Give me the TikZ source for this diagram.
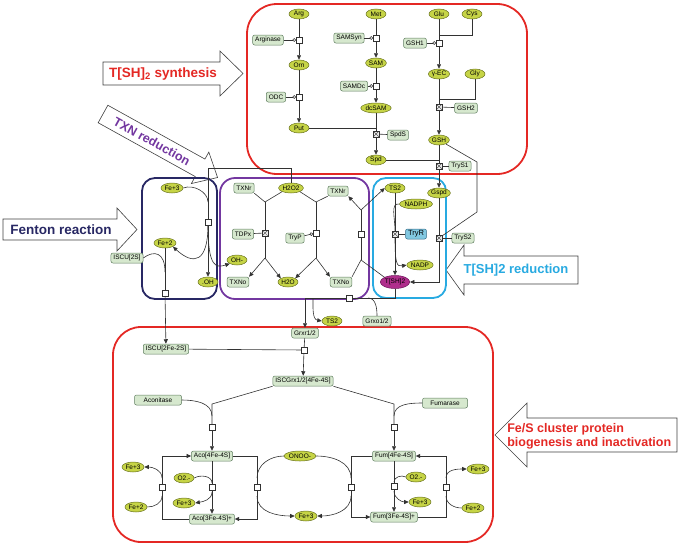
\documentclass[tikz,border=0pt]{standalone}
\usepackage{fontspec}
\setmainfont{Liberation Sans}
\usetikzlibrary{arrows.meta,shapes.geometric}
\definecolor{spfill}{RGB}{198,212,70}
\definecolor{spline}{RGB}{105,115,30}
\definecolor{enzfill}{RGB}{214,232,206}
\definecolor{enzline}{RGB}{95,125,95}
\definecolor{tryfill}{RGB}{130,200,225}
\definecolor{tryline}{RGB}{45,105,135}
\definecolor{tshfill}{RGB}{176,46,140}
\definecolor{tshline}{RGB}{110,20,90}
\definecolor{lnk}{RGB}{50,50,50}
\definecolor{fsred}{RGB}{228,40,36}
\definecolor{navy}{RGB}{40,40,100}
\definecolor{purp}{RGB}{115,55,160}
\definecolor{cyanb}{RGB}{40,170,225}
\tikzset{>={Triangle[length=4.5pt,width=4pt]}}
\tikzset{
  sp/.style={ellipse,draw=spline,fill=spfill,text=black,inner xsep=0.3pt,inner ysep=0pt,
    minimum width=20pt,minimum height=10pt,line width=0.5pt,font=\fontsize{6.5}{7}\selectfont},
  enz/.style={rectangle,rounded corners=2pt,draw=enzline,fill=enzfill,text=black,inner xsep=2.5pt,
    inner ysep=1pt,minimum height=10pt,line width=0.5pt,font=\fontsize{6.5}{7}\selectfont},
  proc/.style={rectangle,draw=lnk,fill=white,minimum size=5.5pt,inner sep=0pt,line width=0.5pt},
  xproc/.style={proc,fill=gray!15,path picture={\draw[lnk,line width=0.35pt]
    (path picture bounding box.south west) -- (path picture bounding box.north east)
    (path picture bounding box.north west) -- (path picture bounding box.south east);}},
  cat/.style={-{Circle[open,length=3.5pt]}},
  area/.style={line width=1.8pt,rounded corners=13pt},
  blk/.style={draw=black!75,fill=white,line width=0.6pt},
  blktext/.style={font=\fontsize{13.5}{15}\selectfont\bfseries,inner sep=1pt}
}
\begin{document}
\begin{tikzpicture}[x=1pt,y=-1pt,line width=0.6pt,color=lnk]
\useasboundingbox (0,0) rectangle (679,546);

\draw[blk] (103,62) -- (220,62) -- (220,51) -- (243,73.5) -- (220,96) -- (220,85) -- (103,85) -- cycle;
\node[blktext,text=fsred] (synth) at (163,74) {T[SH]\textsubscript{2} synthesis};
\draw[blk] (3,219) -- (117,219) -- (117,208) -- (137,229.5) -- (117,251) -- (117,240) -- (3,240) -- cycle;
\node[blktext,text=navy] (fenton) at (61,230) {Fenton reaction};
\begin{scope}[shift={(103,114)},rotate=-29]
\draw[blk] (0,-10) -- (111,-10) -- (111,-18) -- (131,0) -- (111,18) -- (111,10) -- (0,10) -- cycle;
\node[blktext,text=purp,rotate=-29,font=\fontsize{12.5}{14}\selectfont\bfseries] (txnred) at (56,0) {TXN reduction};
\end{scope}
\draw[blk] (578,256) -- (464,256) -- (464,245) -- (446,270) -- (464,295) -- (464,284) -- (578,284) -- cycle;
\node[blktext,text=cyanb,font=\fontsize{13}{15}\selectfont\bfseries] (tshred) at (516,270) {T[SH]2 reduction};
\draw[blk] (677,418) -- (527,418) -- (527,403) -- (495,435) -- (527,467) -- (527,452) -- (677,452) -- cycle;
\node[blktext,text=fsred,font=\fontsize{12.5}{14}\selectfont\bfseries,align=left,anchor=west] (fesred) at (506,436)
  {Fe/S cluster protein\\biogenesis and inactivation};

\draw[area,draw=fsred,rounded corners=30pt] (247,4) rectangle (527,174);
\draw[area,draw=navy] (142,178) rectangle (217,299);
\draw[area,draw=purp,rounded corners=15pt] (220,178) rectangle (369,299);
\draw[area,draw=cyanb] (373,178) rectangle (446,298);
\draw[area,draw=fsred,rounded corners=28pt] (113,327) rectangle (493,542);

\node[sp] (arg) at (299,14) {Arg};
\node[proc] (pa) at (299,40) {};
\node[enz] (arginase) at (268,40) {Arginase};
\node[sp] (orn) at (299,65) {Orn};
\node[proc] (po) at (299,97) {};
\node[enz] (odc) at (276,97) {ODC};
\node[sp] (put) at (299,128) {Put};
\node[sp] (met) at (376,14) {Met};
\node[proc] (pm) at (376,38) {};
\node[enz] (samsyn) at (349,38) {SAMSyn};
\node[sp] (sam) at (376,63) {SAM};
\node[proc] (ps) at (376,86) {};
\node[enz] (samdc) at (354,86) {SAMDc};
\node[sp] (dcsam) at (376,108) {dcSAM};
\node[xproc] (pd) at (376,134) {};
\node[enz] (spds) at (398,135) {SpdS};
\node[sp] (spd) at (376,160) {Spd};
\node[sp] (glu) at (439,14) {Glu};
\node[sp] (cys) at (472,14) {Cys};
\node[proc] (pg) at (439,43) {};
\node[enz] (gsh1) at (415,43) {GSH1};
\node[sp] (gec) at (439,74) {γ-EC};
\node[sp] (gly) at (475,74) {Gly};
\node[xproc] (pe) at (439,107) {};
\node[enz] (gsh2) at (466,108) {GSH2};
\node[sp] (gsh) at (439,140) {GSH};
\node[xproc] (pt) at (439,166) {};
\node[enz] (trys1) at (460,166) {TryS1};
\coordinate (jc) at (439,35);
\coordinate (jg) at (439,99);

\draw (arg) -- (pa); \draw[->] (pa) -- (orn); \draw[cat] (arginase) -- (pa);
\draw (orn) -- (po); \draw[->] (po) -- (put); \draw[cat] (odc) -- (po);
\draw (met) -- (pm); \draw[->] (pm) -- (sam); \draw[cat] (samsyn) -- (pm);
\draw (sam) -- (ps); \draw[->] (ps) -- (dcsam); \draw[cat] (samdc) -- (ps);
\draw (dcsam) -- (pd); \draw[->] (pd) -- (spd); \draw (spds) -- (pd);
\draw (put) -- (put -| pd);
\draw (glu) -- (pg); \draw (cys) |- (jc); \draw[->] (pg) -- (gec); \draw[cat] (gsh1) -- (pg);
\draw (gec) -- (pe); \draw (gly) |- (jg); \draw[->] (pe) -- (gsh); \draw (gsh2) -- (pe);
\draw (gsh) -- (pt); \draw (spd) -- (spd -| pt); \draw (trys1) -- (pt);

\node[sp] (gspd) at (439,193) {Gspd};
\node[xproc] (pq) at (439,238) {};
\node[enz] (trys2) at (463,238) {TryS2};
\node[sp,fill=tshfill,draw=tshline,minimum height=13pt] (tsh) at (395,282) {T[SH]2};
\node[sp] (ts2) at (395,188) {TS2};
\node[xproc] (pr) at (395,234) {};
\node[enz,fill=tryfill,draw=tryline,font=\fontsize{7.5}{8}\selectfont] (tryr) at (416,234) {TryR};
\node[sp] (nadph) at (416,204) {NADPH};
\node[sp] (nadp) at (420,265) {NADP};
\coordinate (k1) at (477,162);
\coordinate (k2) at (477,212);

\draw[->] (pt) -- (gspd);
\draw (gsh) -- (k1) -- (k2) -- (pq);
\draw (gspd) -- (pq); \draw[->] (pq) |- (tsh); \draw (trys2) -- (pq);
\draw (ts2) -- (pr); \draw[->] (pr) -- (tsh); \draw (tryr) -- (pr);
\draw (nadph.west) .. controls +(-9,-1) and +(0,-14) .. (pr.north);
\draw[->] (pr.south) .. controls +(0,26) and +(-10,2) .. (nadp.west);

\node[enz] (txnr) at (244,188) {TXNr};
\node[sp] (hoo) at (291,188) {H2O2};
\node[enz] (txnrb) at (338,191) {TXNr};
\node[enz] (tdpx) at (243,234) {TDPx};
\node[xproc] (pp) at (265,233) {};
\node[enz] (tryp) at (295,238) {TryP};
\node[proc] (pw) at (316,233) {};
\node[enz] (txno) at (238,282) {TXNo};
\node[sp] (h2o) at (288,282) {H2O};
\node[enz] (txnob) at (341,282) {TXNo};
\node[proc] (pv) at (361,234) {};
\coordinate (a1) at (265,202);
\coordinate (a2) at (265,258);
\coordinate (b1) at (316,202);
\coordinate (b2) at (316,258);
\coordinate (c1) at (361,210);
\coordinate (c2) at (361,260);

\draw (txnr.south east) -- (a1) -- (hoo.south west);
\draw (a1) -- (pp) -- (a2); \draw (tdpx) -- (pp);
\draw[->] (a2) -- (txno.north east); \draw[->] (a2) -- (h2o.north west);
\draw (hoo.south east) -- (b1) -- (txnrb.south west);
\draw (b1) -- (pw) -- (b2); \draw[cat] (tryp) -- (pw);
\draw[->] (b2) -- (h2o.north east); \draw[->] (b2) -- (txnob.north west);
\draw (txnob.north east) -- (c2) -- (tsh.north west);
\draw (c2) -- (pv) -- (c1);
\draw[->] (c1) -- (txnrb.south east); \draw[->] (c1) -- (ts2.west);

\node[sp] (fe3) at (172,188) {Fe+3};
\node[sp] (fe2) at (165,243) {Fe+2};
\node[sp] (ohm) at (237,260) {OH-};
\node[sp] (oh) at (208,282) {.OH};
\node[proc] (pf) at (208,222) {};
\node[enz] (iscus) at (127,258) {ISCU[2S]};
\node[proc] (pi) at (165,293) {};
\node[enz] (iscu) at (166,349) {ISCU[2Fe-2S]};
\coordinate (h1) at (291,168);
\coordinate (h2) at (208,168);
\coordinate (h3) at (208,202);
\coordinate (h5) at (165,272);

\draw (hoo) -- (h1) -- (h2) -- (pf);
\draw (fe3.east) .. controls +(10,-4) and +(0,-10) .. (h3);
\draw[->] (pf) -- (oh);
\draw[->] (pf.south) .. controls (208,262) and (194,266) .. (fe2.south east);
\draw[->] (pf.south) .. controls (208,268) and (216,268) .. (ohm.south west);
\draw (fe2) -- (pi); \draw[->] (pi) -- (iscu);
\draw (iscus.east) .. controls (154,250) and (165,252) .. (h5);

\node[enz] (grxr) at (305,333) {Grxr1/2};
\node[enz] (grxo) at (377,321) {Grxo1/2};
\node[sp] (ts2b) at (332,321) {TS2};
\node[proc] (pgx) at (349,298) {};
\coordinate (g1) at (395,298);
\coordinate (g2) at (368,298);
\coordinate (g3) at (313,298);

\draw (tsh) -- (g1) -- (pgx);
\draw[->] (pgx) -| (grxr);
\draw (grxo.north) to[out=90,in=0] (g2);
\draw[->] (g3) to[out=-90,in=170] (ts2b.west);

\node[enz] (iscgrx) at (303,381) {ISCGrx1/2[4Fe-4S]};
\node[proc] (pz) at (304,350) {};
\node[enz,minimum width=47pt] (aconitase) at (158,400) {Aconitase};
\node[enz,minimum width=45pt] (fumarase) at (445,403) {Fumarase};
\node[proc] (pk) at (212,427) {};
\node[proc] (pl) at (394,427) {};
\node[enz] (aco4) at (212,456) {Aco[4Fe-4S]};
\node[enz] (aco3) at (212,519) {Aco[3Fe-4S]+};
\node[enz] (fum4) at (394,456) {Fum[4Fe-4S]};
\node[enz] (fum3) at (394,517) {Fum[3Fe-4S]+};
\coordinate (d1) at (212,404);
\coordinate (d2) at (394,404);
\coordinate (d3) at (212,416);
\coordinate (d4) at (394,416);

\draw (iscu) -- (pz); \draw (grxr) -- (pz); \draw[->] (pz) -- (iscgrx);
\draw (iscgrx.south west) -- (d1) -- (pk); \draw[->] (pk) -- (aco4);
\draw (iscgrx.south east) -- (d2) -- (pl); \draw[->] (pl) -- (fum4);
\draw (aconitase.east) to[out=0,in=90] (d3);
\draw (fumarase.west) to[out=180,in=90] (d4);

\node[proc] (pa1) at (212,487) {};
\node[sp] (o2a) at (184,478) {O2.-};
\node[sp] (fe3b) at (184,503) {Fe+3};
\node[proc] (pa2) at (162,487) {};
\node[sp] (fe3c) at (133,467) {Fe+3};
\node[sp] (fe2c) at (136,507) {Fe+2};
\coordinate (e1) at (212,483);
\coordinate (e2) at (212,492);
\coordinate (e3) at (162,456);
\coordinate (e4) at (162,519);
\coordinate (e5) at (162,478);
\coordinate (e6) at (162,496);

\draw (aco4) -- (pa1); \draw[->] (pa1) -- (aco3);
\draw (o2a.east) to[out=30,in=90] (e1);
\draw[->] (e2) to[out=-90,in=10] (fe3b.east);
\draw (aco3) -- (e4) -- (pa2); \draw[->] (pa2) -- (e3) -- (aco4);
\draw[->] (e5) to[out=90,in=0] (fe3c.east);
\draw (fe2c.east) to[out=0,in=-90] (e6);

\node[sp] (onoo) at (300,456) {ONOO-};
\node[sp] (fe3d) at (306,516) {Fe+3};
\node[proc] (pa3) at (257,487) {};
\node[proc] (pa4) at (351,487) {};
\coordinate (m1) at (257,456);
\coordinate (m2) at (257,519);
\coordinate (m3) at (351,456);
\coordinate (m4) at (351,517);
\coordinate (m5) at (257,478);
\coordinate (m6) at (351,478);
\coordinate (m7) at (257,496);
\coordinate (m8) at (351,496);

\draw (aco4) -- (m1) -- (pa3); \draw[->] (pa3) -- (m2) -- (aco3);
\draw (fum4) -- (m3) -- (pa4); \draw[->] (pa4) -- (m4) -- (fum3);
\draw (onoo.west) to[out=180,in=90] (m5);
\draw (onoo.east) to[out=0,in=90] (m6);
\draw[->] (m7) to[out=-90,in=180] (fe3d.west);
\draw[->] (m8) to[out=-90,in=0] (fe3d.east);

\node[proc] (pb1) at (394,486) {};
\node[sp] (o2b) at (416,477) {O2.-};
\node[sp] (fe3e) at (420,502) {Fe+3};
\node[proc] (pb2) at (446,487) {};
\node[sp] (fe3f) at (478,469) {Fe+3};
\node[sp] (fe2f) at (473,508) {Fe+2};
\coordinate (n1) at (394,482);
\coordinate (n2) at (394,491);
\coordinate (n3) at (446,517);
\coordinate (n4) at (446,456);
\coordinate (n5) at (446,478);
\coordinate (n6) at (446,496);

\draw (fum4) -- (pb1); \draw[->] (pb1) -- (fum3);
\draw (o2b.west) to[out=150,in=90] (n1);
\draw[->] (n2) to[out=-90,in=180] (fe3e.west);
\draw (fum3) -- (n3) -- (pb2); \draw[->] (pb2) -- (n4) -- (fum4);
\draw[->] (n5) to[out=90,in=180] (fe3f.west);
\draw (fe2f.west) to[out=180,in=-90] (n6);
\end{tikzpicture}
\end{document}
